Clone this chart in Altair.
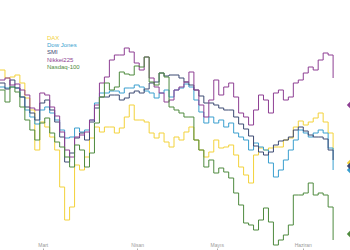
import altair as alt
import pandas as pd

seriler = ["DAX", "Dow Jones", "SMI", "Nikkei225", "Nasdaq-100"]
renkler = ["#f3d23a", "#3a9fcf", "#3c4a73", "#8e3f93", "#4e8a3e"]

gun = list(range(68))

dax = [6.0, 4.4, 4.6, 5.0, 3.4, 0.4, -2.0, -10.0, -4.4, -5.4, -7.4, -10.0, -17.4, -24.0,
       -21.4, -13.0, -14.0, -11.4, -7.6, -5.4, -6.4, -5.4, -5.4, -6.6, -5.6, -3.4, -1.0,
       -4.0, -4.0, -4.4, -6.6, -7.6, -6.6, -8.4, -9.4, -7.4, -8.0, -6.4, -5.4, -8.0, -10.0,
       -11.4, -10.4, -8.0, -9.6, -9.4, -9.0, -11.0, -13.4, -15.0, -16.6, -11.0, -9.6, -10.0,
       -9.6, -9.4, -9.4, -8.0, -7.6, -5.4, -4.2, -5.0, -4.4, -3.6, -2.6, -4.4, -6.6, -10.0]

dow = [2.6, 2.4, 2.6, 2.4, 0.6, -2.0, -3.4, -4.8, -2.0, -1.4, -2.6, -4.0, -6.0, -7.6,
       -7.4, -5.6, -6.4, -6.0, -4.0, -0.6, 1.4, 1.4, 1.8, 1.8, 1.4, 2.4, 2.4, 3.0, 2.6, 1.8,
       1.4, 0.4, 1.4, 2.0, 0.6, 2.0, 2.4, 3.2, 2.6, 0.0, -2.4, -4.6, -3.4, -4.6, -4.0, -5.4,
       -4.6, -6.6, -7.4, -8.0, -10.0, -8.6, -9.4, -10.0, -12.6, -15.4, -14.0, -12.0, -10.0,
       -8.0, -6.0, -6.6, -7.4, -6.6, -6.0, -6.6, -9.6, -14.0]

smi = [3.4, 2.2, 4.0, 2.4, 0.6, -1.4, -2.6, -4.0, -0.6, 0.0, -2.0, -4.4, -7.4, -12.4,
       -10.6, -7.6, -6.6, -8.0, -4.4, -1.6, 0.6, 0.6, 1.0, 1.0, 0.0, 0.4, 1.4, 1.8, 1.4, 2.2,
       3.4, 3.6, 5.4, 4.8, 5.0, 5.0, 4.4, 3.6, 3.0, 2.0, 0.8, -0.6, -0.6, -1.0, -1.6, -2.0,
       -2.0, -3.4, -4.8, -5.8, -7.2, -9.2, -10.4, -11.0, -10.4, -9.0, -8.2, -8.0, -7.4, -6.0,
       -5.4, -6.2, -7.0, -7.4, -7.4, -7.8, -10.0, -12.0]

nikkei = [4.0, 4.4, 3.0, 3.2, 2.0, 1.0, -1.6, -2.0, 1.4, 1.0, -1.4, -3.2, -6.4, -10.0,
          -11.4, -7.4, -7.0, -6.4, -4.0, -1.0, 3.4, 4.6, 8.0, 9.0, 9.0, 10.4, 9.6, 7.4, 6.0,
          8.6, 4.4, 2.6, 1.4, -0.4, 0.0, 2.0, 2.6, 3.6, 5.6, 2.0, -1.0, -3.4, 0.0, 4.0, 1.0,
          2.6, 3.4, 0.6, -2.6, -3.4, -5.0, -2.0, 1.0, 0.0, -2.6, 1.4, 2.0, 0.0, 0.6, 3.4, 4.0,
          5.4, 6.6, 6.0, 8.0, 9.4, 9.0, 4.4]

nasdaq = [2.0, -0.4, 2.6, 1.6, -1.4, -4.0, -6.0, -8.0, -4.6, -3.6, -6.6, -8.4, -9.4, -11.4,
          -13.4, -9.0, -10.0, -13.4, -10.6, -4.6, 0.6, 3.4, 2.0, 2.6, 5.6, 5.2, 5.0, 6.8, 6.6,
          8.6, 3.6, 3.0, 5.4, 4.6, -1.4, -2.0, -2.6, -3.4, -3.4, -8.0, -10.0, -13.4, -12.0,
          -14.6, -13.6, -14.4, -15.6, -18.6, -21.0, -24.6, -25.0, -26.0, -24.0, -21.6, -24.4,
          -29.0, -28.0, -27.0, -25.0, -19.0, -19.0, -18.6, -16.6, -19.0, -18.6, -19.0, -21.4,
          -28.0]

son_gun = 70.4
son_deger = [-12.6, -14.0, -13.2, -1.0, -26.8]

ay_konum = [8.6, 27.6, 43.6, 60.9]
ay_etiket = ["Mart", "Nisan", "Mayıs", "Haziran"]

degerler = [dax, dow, smi, nikkei, nasdaq]
rows = []
for ad, seri in zip(seriler, degerler):
    for g, v in zip(gun, seri):
        rows.append({"gun": g, "deger": v, "endeks": ad})
df = pd.DataFrame(rows)
df_son = pd.DataFrame({"gun": [son_gun] * len(seriler), "deger": son_deger, "endeks": seriler})

label_expr = "".join(f"datum.value == {p} ? '{l}' : " for p, l in zip(ay_konum, ay_etiket)) + "''"

x_enc = alt.X(
    "gun:Q",
    scale=alt.Scale(domain=[0, son_gun], nice=False, zero=False),
    axis=alt.Axis(
        orient="top", offset=-250, values=ay_konum, labelExpr=label_expr,
        tickSize=2, domain=False, grid=False, labelFontSize=5, labelColor="#9a9a9a",
        tickColor="#b0b0b0", labelPadding=1, labelOverlap=False, labelFlush=False,
        labelFont="Liberation Sans", title=None,
    ),
)
y_enc = alt.Y("deger:Q", scale=alt.Scale(domain=[-30, 20], nice=False, zero=False), axis=None)
color_enc = alt.Color(
    "endeks:N",
    scale=alt.Scale(domain=seriler, range=renkler),
    sort=seriler,
    legend=alt.Legend(
        orient="none", legendX=41, legendY=35, title=None, symbolSize=0,
        symbolStrokeWidth=0, symbolOpacity=0, labelFontSize=6, labelFont="Liberation Sans",
        rowPadding=1.2, labelOffset=0, padding=0,
        labelColor={"expr": "scale('color', datum.value)"},
    ),
)

lines = alt.Chart(df).mark_line(interpolate="step-after", strokeWidth=1).encode(
    x=x_enc, y=y_enc, color=color_enc, detail="endeks:N"
)
points = alt.Chart(df_son).mark_point(shape="diamond", filled=True, size=40, opacity=1).encode(
    x=alt.X("gun:Q"), y=alt.Y("deger:Q"), color=alt.Color("endeks:N", legend=None)
)

chart = alt.layer(lines, points).properties(
    width=350, height=250, padding=0, autosize=alt.AutoSizeParams(type="none"),
    background="white",
).configure_view(strokeWidth=0)

chart.save("out.html", embed_options={"renderer": "svg", "actions": False})
